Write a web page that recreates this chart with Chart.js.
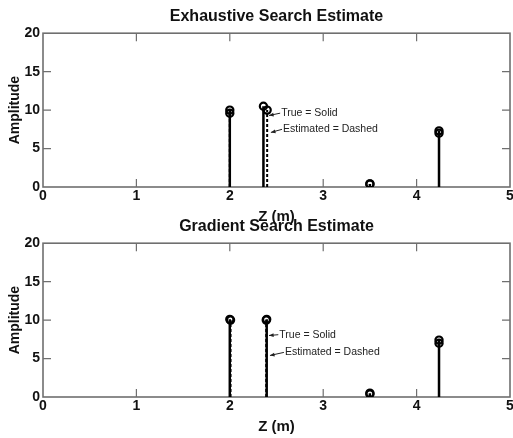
<!DOCTYPE html>
<html>
<head>
<meta charset="utf-8">
<script src="https://cdn.jsdelivr.net/npm/chart.js@4/dist/chart.umd.min.js"></script>
<style>
  body { margin: 0; background: #fff; }
  .panel { position: absolute; left: 0; }
</style>
</head>
<body>
<div class="panel" style="top:0"><canvas id="exhaustive" width="513" height="228"></canvas></div>
<div class="panel" style="top:210px"><canvas id="gradient" width="513" height="228"></canvas></div>
<script>
// z positions (m) and amplitudes
var zTicks = [0, 1, 2, 3, 4, 5];
var ampTicks = [0, 5, 10, 15, 20];

// Exhaustive search panel
var exTrueZ = [2.0, 2.36, 3.5, 4.24];
var exTrueAmp = [10.0, 10.5, 0.4, 7.3];
var exEstZ = [2.0, 2.40, 3.5, 4.24];
var exEstAmp = [9.6, 10.0, 0.4, 7.0];

// Gradient search panel
var grTrueZ = [2.0, 2.395, 3.5, 4.24];
var grTrueAmp = [10.1, 10.1, 0.5, 7.4];
var grEstZ = [2.008, 2.39, 3.5, 4.24];
var grEstAmp = [10.0, 10.0, 0.4, 7.0];

// text arrows: label position and arrow tip, in data units
var exNotes = [
  { text: 'True = Solid', x: 2.55, y: 9.6, tipX: 2.42, tipY: 9.3 },
  { text: 'Estimated = Dashed', x: 2.57, y: 7.5, tipX: 2.44, tipY: 7.1 }
];
var grNotes = [
  { text: 'True = Solid', x: 2.53, y: 8.1, tipX: 2.42, tipY: 8.0 },
  { text: 'Estimated = Dashed', x: 2.59, y: 5.8, tipX: 2.43, tipY: 5.4 }
];

function stems(zs, amps, dashed) {
  return zs.map(function (z, i) {
    return {
      data: [{ x: z, y: 0 }, { x: z, y: amps[i] }],
      showLine: true,
      borderColor: '#000',
      borderWidth: dashed ? 2 : 2.5,
      borderDash: dashed ? [3, 2] : [],
      pointRadius: [0, 3.6],
      pointBorderColor: '#000',
      pointBackgroundColor: 'rgba(0,0,0,0)',
      pointBorderWidth: 2.2
    };
  });
}

// MATLAB style box with inward ticks
var frame = {
  id: 'frame',
  beforeDatasetsDraw: function (chart) {
    var ctx = chart.ctx, a = chart.chartArea;
    var xs = chart.scales.x, ys = chart.scales.y;
    ctx.save();
    ctx.strokeStyle = '#6f6f6f';
    ctx.lineWidth = 1.6;
    ctx.strokeRect(a.left, a.top, a.right - a.left, a.bottom - a.top);
    ctx.lineWidth = 1.2;
    ctx.beginPath();
    zTicks.slice(1, -1).forEach(function (v) {
      var px = xs.getPixelForValue(v);
      ctx.moveTo(px, a.bottom); ctx.lineTo(px, a.bottom - 8);
      ctx.moveTo(px, a.top); ctx.lineTo(px, a.top + 8);
    });
    ampTicks.slice(1, -1).forEach(function (v) {
      var py = ys.getPixelForValue(v);
      ctx.moveTo(a.left, py); ctx.lineTo(a.left + 8, py);
      ctx.moveTo(a.right, py); ctx.lineTo(a.right - 8, py);
    });
    ctx.stroke();
    ctx.restore();
  }
};

var notes = {
  id: 'notes',
  afterDatasetsDraw: function (chart, args, opts) {
    var ctx = chart.ctx;
    var xs = chart.scales.x, ys = chart.scales.y;
    ctx.save();
    ctx.font = '10.5px Arial';
    ctx.fillStyle = '#222';
    ctx.strokeStyle = '#222';
    ctx.lineWidth = 1;
    ctx.textBaseline = 'middle';
    (opts.items || []).forEach(function (n) {
      var tx = xs.getPixelForValue(n.x), ty = ys.getPixelForValue(n.y);
      var px = xs.getPixelForValue(n.tipX), py = ys.getPixelForValue(n.tipY);
      ctx.beginPath();
      ctx.moveTo(tx - 1, ty);
      ctx.lineTo(px, py);
      ctx.stroke();
      var ang = Math.atan2(py - ty, px - tx);
      ctx.beginPath();
      ctx.moveTo(px, py);
      ctx.lineTo(px - 5 * Math.cos(ang - 0.4), py - 5 * Math.sin(ang - 0.4));
      ctx.lineTo(px - 5 * Math.cos(ang + 0.4), py - 5 * Math.sin(ang + 0.4));
      ctx.closePath();
      ctx.fill();
      ctx.fillText(n.text, tx, ty);
    });
    ctx.restore();
  }
};

function makeChart(id, title, trueZ, trueAmp, estZ, estAmp, noteList) {
  return new Chart(document.getElementById(id), {
    type: 'scatter',
    data: { datasets: stems(trueZ, trueAmp, false).concat(stems(estZ, estAmp, true)) },
    options: {
      responsive: false,
      animation: false,
      devicePixelRatio: 1,
      layout: { autoPadding: false, padding: { left: 0, right: 3, top: 0, bottom: 0 } },
      plugins: {
        legend: { display: false },
        tooltip: { enabled: false },
        title: {
          display: true,
          text: title,
          fullSize: false,
          color: '#111',
          font: { family: 'Arial', size: 16, weight: 'bold' },
          padding: { top: 7, bottom: 7 }
        },
        notes: { items: noteList }
      },
      scales: {
        x: {
          type: 'linear',
          min: 0,
          max: 5,
          afterBuildTicks: function (s) { s.ticks = zTicks.map(function (v) { return { value: v }; }); },
          afterFit: function (s) { s.height = 41; s.paddingLeft = 0; s.paddingRight = 0; },
          grid: { display: false, drawTicks: false, tickLength: 0 },
          border: { display: false },
          ticks: { color: '#111', padding: 1, font: { family: 'Arial', size: 14, weight: 'bold' } },
          title: {
            display: true,
            text: 'Z (m)',
            color: '#111',
            font: { family: 'Arial', size: 15, weight: 'bold' },
            padding: { top: 0, bottom: 2 }
          }
        },
        y: {
          min: 0,
          max: 20,
          afterBuildTicks: function (s) { s.ticks = ampTicks.map(function (v) { return { value: v }; }); },
          afterFit: function (s) { s.width = 43; s.paddingTop = 0; s.paddingBottom = 0; },
          grid: { display: false, drawTicks: false, tickLength: 0 },
          border: { display: false },
          ticks: { color: '#111', padding: 3, font: { family: 'Arial', size: 14, weight: 'bold' } },
          title: {
            display: true,
            text: 'Amplitude',
            color: '#111',
            font: { family: 'Arial', size: 14, weight: 'bold' },
            padding: { top: 7, bottom: 0 }
          }
        }
      }
    },
    plugins: [frame, notes]
  });
}

makeChart('exhaustive', 'Exhaustive Search Estimate', exTrueZ, exTrueAmp, exEstZ, exEstAmp, exNotes);
makeChart('gradient', 'Gradient Search Estimate', grTrueZ, grTrueAmp, grEstZ, grEstAmp, grNotes);
</script>
</body>
</html>
